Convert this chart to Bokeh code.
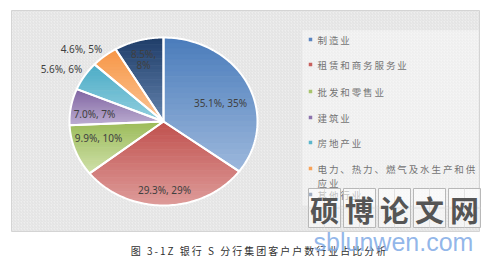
import numpy as np
from bokeh.plotting import figure
from bokeh.models import ColumnDataSource
from bokeh.core.properties import value
from bokeh.embed import file_html
from bokeh.resources import INLINE

# ---------------- data ----------------
categories = ["制造业", "租赁和商务服务业", "批发和零售业", "建筑业", "房地产业",
              "电力、热力、燃气及水生产和供应业", "其他行业"]
shares = [35.1, 29.3, 9.9, 7.0, 5.6, 4.6, 8.5]
caption = "图 3-1Z 银行 S 分行集团客户户数行业占比分析"
watermark = "硕博论文网"
site = "sblunwen.com"

# ---------------- style ----------------
top_colors = ["#4a7cbb", "#c0504d", "#9bbb59", "#7f63a1", "#4bacc6", "#f79646", "#1f3d69"]
bottom_colors = ["#9db8dc", "#de9c9a", "#d0e1aa", "#bcadd1", "#93cfdf", "#fbc596", "#6383ad"]
legend_colors = ["#5b85c0", "#c8605d", "#a8c46d", "#8c73ad", "#5cb6cc", "#f8a259", "#2b4a78"]
CX, CY, RX, RY = 163, 121, 94, 84
LABEL_POS = [(220, 102), (164, 189), (98, 137), (94, 113), (61, 68), (81, 48), (143, 53)]
LEG_X, LEG_Y = 317, [39, 64, 91, 117, 142, 168, 194]
LEG_WRAP = 14
CJK = value("Noto Sans CJK SC")


def hex2rgb(h):
    h = h.lstrip("#")
    return np.array([int(h[i:i + 2], 16) for i in (0, 2, 4)], dtype=float)


def mix(c1, c2, t):
    c = hex2rgb(c1) * (1 - t) + hex2rgb(c2) * t
    return "#%02x%02x%02x" % tuple(int(round(v)) for v in c)


def clip(poly, y, keep_above):
    out = []
    n = len(poly)
    inside = (lambda p: p[1] >= y) if keep_above else (lambda p: p[1] <= y)
    for i in range(n):
        a, b = poly[i], poly[(i + 1) % n]
        ia, ib = inside(a), inside(b)
        if ia:
            out.append(a)
        if ia != ib:
            t = (y - a[1]) / (b[1] - a[1])
            out.append((a[0] + t * (b[0] - a[0]), y))
    return out


def spaced(s, sep="\u2009"):
    return sep.join(s)


p = figure(width=497, height=260, x_range=(0, 497), y_range=(260, 0),
           output_backend="svg", toolbar_location=None, min_border=0)
p.axis.visible = False
p.grid.visible = False
p.outline_line_color = None
p.background_fill_color = "white"
p.border_fill_color = "white"

# chart area background (hatched)
p.quad(left=[11], right=[479], top=[10], bottom=[231], fill_color="#eeeeee",
       hatch_pattern="right_diagonal_line", hatch_color="#d9d9d9", hatch_scale=3,
       hatch_weight=0.6, line_color="#d4d4d4", line_width=1)
# legend panel
p.quad(left=[302], right=[478], top=[30], bottom=[205], fill_color="#f5f5f5",
       hatch_pattern="right_diagonal_line", hatch_color="#e8e8e8", hatch_scale=3,
       hatch_weight=0.6, line_color=None)

# ---------------- pie slices ----------------
total = sum(shares)
angles = np.cumsum([0] + [s / total * 360 for s in shares])
band_xs, band_ys, band_cols = [], [], []
out_xs, out_ys = [], []
for i, s in enumerate(shares):
    th = np.radians(np.linspace(angles[i], angles[i + 1], 80))
    px = CX + RX * np.sin(th)
    py = CY - RY * np.cos(th)
    poly = [(CX, CY)] + list(zip(px, py))
    out_xs.append([q[0] for q in poly])
    out_ys.append([q[1] for q in poly])
    y0 = min(q[1] for q in poly)
    y1 = max(q[1] for q in poly)
    nb = 24
    edges = np.linspace(y0, y1, nb + 1)
    for k in range(nb):
        part = clip(clip(poly, edges[k] - 0.3, True), edges[k + 1] + 0.3, False)
        if len(part) < 3:
            continue
        band_xs.append([q[0] for q in part])
        band_ys.append([q[1] for q in part])
        band_cols.append(mix(top_colors[i], bottom_colors[i], (k + 0.5) / nb))

p.patches(xs=band_xs, ys=band_ys, fill_color=band_cols, line_color=band_cols, line_width=0.4)
p.patches(xs=out_xs, ys=out_ys, fill_color=None, line_color="white", line_width=2,
          line_join="round")

# ---------------- data labels ----------------
lx, ly, lt = [], [], []
for i, s in enumerate(shares):
    txt = f"{s:.1f}%, {round(s):.0f}%"
    x, y = LABEL_POS[i]
    if i == 6:
        parts = txt.split(" ")
        lx += [x, x]
        ly += [y, y + 11]
        lt += parts
    else:
        lx.append(x); ly.append(y); lt.append(txt)
p.text(x=lx, y=ly, text=lt, text_font=value("Noto Sans"), text_font_size="10px",
       text_color="#404040", text_align="center", text_baseline="middle")

# ---------------- legend ----------------
p.scatter(x=[LEG_X - 7] * len(categories), y=LEG_Y, marker="square", size=3.5,
          fill_color=legend_colors, line_color=None)
tx, ty, tt = [], [], []
for i, c in enumerate(categories):
    lines = [c[j:j + LEG_WRAP] for j in range(0, len(c), LEG_WRAP)]
    for k, ln in enumerate(lines):
        tx.append(LEG_X); ty.append(LEG_Y[i] + 14 * k); tt.append(spaced(ln))
p.text(x=tx, y=ty, text=tt, text_font=CJK, text_font_size="9.5px",
       text_color="#747474", text_align="left", text_baseline="middle")

# ---------------- watermark ----------------
bl = [308 + 35 * i for i in range(len(watermark))]
p.quad(left=bl, right=[b + 32 for b in bl], top=[188] * 5, bottom=[227] * 5,
       fill_color="white", fill_alpha=0.55, line_color="#b8b8b8", line_width=1)
p.segment(x0=[b + 16 for b in bl], y0=[188] * 5, x1=[b + 16 for b in bl], y1=[227] * 5,
          line_color="#dcdcdc", line_width=0.8)
p.segment(x0=bl, y0=[207.5] * 5, x1=[b + 32 for b in bl], y1=[207.5] * 5,
          line_color="#dcdcdc", line_width=0.8)
p.text(x=[b + 16 for b in bl], y=[208] * 5, text=list(watermark), text_font=CJK,
       text_font_size="29px", text_font_style="bold", text_color="#555555",
       text_align="center", text_baseline="middle")

# ---------------- caption & site ----------------
p.text(x=[258], y=[250], text=[spaced(caption)], text_font=CJK, text_font_size="10px",
       text_color="#303030", text_align="center", text_baseline="middle")
p.text(x=[393], y=[241], text=[site], text_font=value("Liberation Sans"),
       text_font_size="25px", text_color="#7faae6", text_alpha=0.85,
       text_align="center", text_baseline="middle")

open("out.html", "w").write(file_html(p, INLINE))
